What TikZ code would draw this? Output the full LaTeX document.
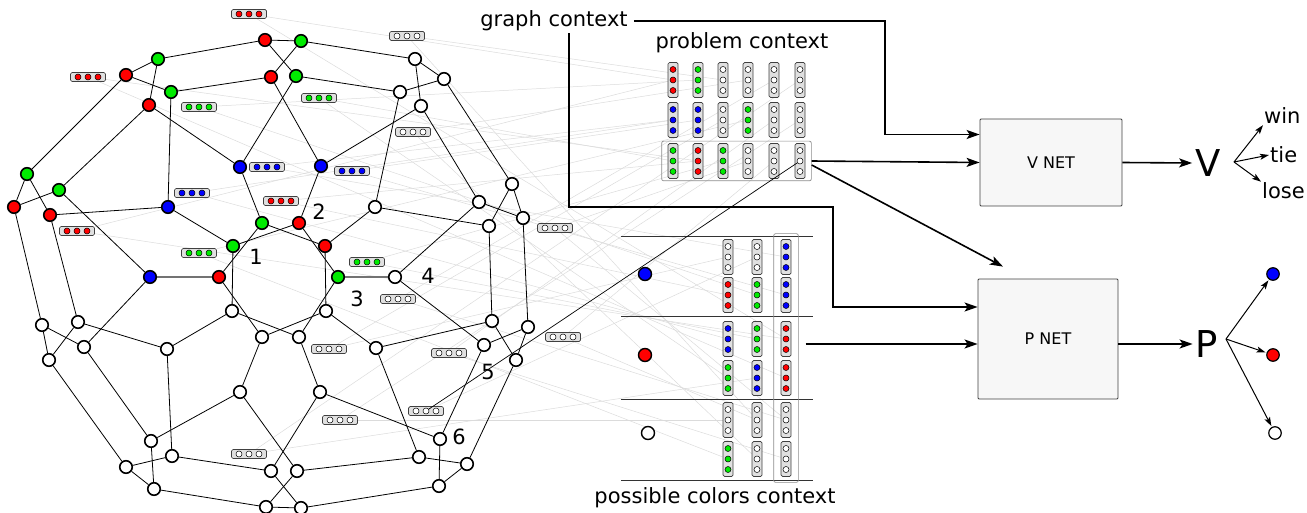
\documentclass[tikz,border=0pt]{standalone}
\usepackage{fontspec}
\setmainfont{DejaVu Sans}
\usepackage{tikz}
\usetikzlibrary{arrows.meta,positioning,fit,backgrounds}

\definecolor{cred}{RGB}{255,0,0}
\definecolor{cgreen}{RGB}{0,235,0}
\definecolor{cblue}{RGB}{0,0,255}

% horizontal colour badge next to a vertex: name, position, colour
\newcommand{\hbadge}[3]{%
  \node[hbadge] (#1) at (#2) {};
  \foreach \k/\d in {1/-10,2/0,3/10}
    \node[dot, fill=#3] (#1-\k) at ([xshift=\d pt]#1) {};
}
% vertical colour capsule of a context: name, position, colour
\newcommand{\vcaps}[3]{%
  \node[vcaps] (#1) at (#2) {};
  \foreach \k/\d in {1/10.5,2/0,3/-10.5}
    \node[dot, fill=#3] (#1-\k) at ([yshift=\d pt]#1) {};
}

\begin{document}
\begin{tikzpicture}
[x=1pt, y=-1pt, font=\fontsize{21}{25}\selectfont,
% STYLES
% The vertex style is used for the nodes of the graph
vertex/.style={circle, draw, line width=1.6pt, minimum size=12.5, inner sep=0pt},
% The link style is used for the edges of the graph
link/.style={draw, line width=0.8pt},
graylink/.style={draw=black!55, line width=1.3pt},
dot/.style={circle, draw, line width=0.5pt, minimum size=6, inner sep=0pt},
hbadge/.style={rectangle, rounded corners=1.5pt, draw=black!75, fill=black!12, line width=0.7pt, minimum width=35, minimum height=9, inner sep=0pt},
vcaps/.style={rectangle, rounded corners=1.5pt, draw=black!75, fill=black!12, line width=0.7pt, minimum width=10, minimum height=35, inner sep=0pt},
groupbox/.style={rectangle, rounded corners=2pt, draw=black!45, line width=0.7pt},
faint/.style={draw=black!14, line width=0.5pt},
sep/.style={draw=black!80, line width=0.8pt},
bigdot/.style={circle, draw, line width=1.4pt, minimum size=13, inner sep=0pt},
outdot/.style={circle, draw, line width=1.2pt, minimum size=12.5, inner sep=0pt},
% The ctx style is used for the thick context connectors
ctx/.style={line width=1.6pt, -{Stealth[length=13pt,width=9pt,inset=3pt]}},
fork/.style={line width=1pt, -{Stealth[length=9pt,width=6pt,inset=2pt]}},
netbox/.style={rectangle, rounded corners=1pt, draw=black!75, fill=black!3, line width=0.8pt, font=\fontsize{16}{19}\selectfont},
big/.style={font=\fontsize{37}{40}\selectfont, inner sep=0pt},
num/.style={inner sep=0pt}]

\useasboundingbox (0,0) rectangle (1307,513);

% Draw vertices
\foreach \n/\x/\y/\c in {a1/265/40/cred, a2/301/41/cgreen, a3/158/59/cgreen, a4/126/75/cred,
  a5/271/77/cred, a6/296/76/cgreen, a7/171/92/cgreen, a8/149/105/cred, a9/240/167/cblue,
  a10/321/166/cblue, a11/27/174/cgreen, a12/59/190/cgreen, a13/14/207/cred, a14/50/215/cred,
  a15/168/207/cblue, a16/150/277/cblue,
  c1/262/223/cgreen, c2/299/223/cred, c3/233/246/cgreen, c4/325/246/cred, c5/219/277/cred,
  c6/338/277/cgreen, c7/232/311/white, c8/326/311/white, c9/262/337/white, c10/299/337/white,
  b1/415/59/white, b2/444/79/white, b3/400/92/white, b4/421/106/white, b5/375/207/white,
  b6/512/184/white, b7/479/202/white, b8/523/218/white, b9/489/226/white, b10/395/277/white,
  d1/492/321/white, d2/528/327/white, d3/484/345/white, d4/516/360/white, d5/376/348/white,
  d6/320/392/white, d7/240/392/white, d8/440/439/white, d9/419/457/white, d10/467/464/white,
  d11/439/486/white, d12/271/471/white, d13/297/471/white, d14/266/507/white, d15/301/508/white,
  e1/42/325/white, e2/78/322/white, e3/84/347/white, e4/49/360/white, e5/167/349/white,
  e6/151/441/white, e7/172/456/white, e8/126/467/white, e9/154/489/white}
  \node[vertex, fill=\c] (\n) at (\x,\y) {};

% vertex numbers
\node[num] (n1) at (256,257) {1};
\node[num] (n2) at (319,212) {2};
\node[num] (n3) at (357,299) {3};
\node[num] (n4) at (428,276) {4};
\node[num] (n5) at (488,372) {5};
\node[num] (n6) at (459,437) {6};

% Draw badges
\foreach \n/\x/\y/\c in {hb1/249/14/cred, hb2/88/77/cred, hb3/199/107/cgreen, hb4/407/36/white,
  hb5/319/98/cgreen, hb6/413/132/white, hb7/267/167/cblue, hb8/352/171/cblue, hb9/192/193/cblue,
  hb10/281/201/cred, hb11/77/231/cred, hb12/199/253/cgreen, hb13/367/262/cgreen,
  hb14/398/299/white, hb15/329/349/white, hb16/449/353/white, hb17/426/411/white,
  hb18/340/420/white, hb19/249/454/white, hb20/555/228/white, hb21/563/337/white}
  \hbadge{\n}{\x,\y}{\c};

%%%%%%%%%%%%%%%
% problem context
\node (pctitle) at (742,43) {problem context};
\foreach \n/\x/\y/\c in {pc-1-1/673/80/cred, pc-1-2/698/80/cgreen, pc-1-3/723/80/white,
  pc-1-4/748/80/white, pc-1-5/774/80/white, pc-1-6/800/80/white,
  pc-2-1/673/120/cblue, pc-2-2/698/120/cblue, pc-2-3/723/120/white,
  pc-2-4/748/120/cgreen, pc-2-5/774/120/white, pc-2-6/800/120/white,
  pc-3-1/673/161/cgreen, pc-3-2/698/161/cred, pc-3-3/723/161/cgreen,
  pc-3-4/748/161/white, pc-3-5/774/161/white, pc-3-6/800/161/white}
  \vcaps{\n}{\x,\y}{\c};
\node[groupbox, inner xsep=6pt, inner ysep=2pt, fit=(pc-3-1)(pc-3-6)] (pcrow) {};

% possible colors context
\foreach \y in {236,316,399,480}
  \draw[sep] (621,\y) -- (813,\y);
\node[bigdot, fill=cblue] (pblue) at (645,274) {};
\node[bigdot, fill=cred] (pred) at (645,355) {};
\node[bigdot, fill=white] (pwhite) at (648,433) {};
\foreach \n/\x/\y/\c in {po-1-1-1/728/257/white, po-1-1-2/728/295/cred,
  po-1-2-1/757/257/white, po-1-2-2/757/295/cgreen, po-1-3-1/786/257/cblue, po-1-3-2/786/295/cblue,
  po-2-1-1/728/339/cblue, po-2-1-2/728/378/cgreen, po-2-2-1/757/339/cgreen,
  po-2-2-2/757/378/cblue, po-2-3-1/786/339/cred, po-2-3-2/786/378/cred,
  po-3-1-1/728/420/white, po-3-1-2/728/459/cgreen, po-3-2-1/757/420/white,
  po-3-2-2/757/459/white, po-3-3-1/786/420/white, po-3-3-2/786/459/white}
  \vcaps{\n}{\x,\y}{\c};
\node[groupbox, inner xsep=7pt, inner ysep=5.5pt, fit=(po-1-3-1)(po-3-3-2)] (pcfit) {};
\node (pocolor) at (715,498) {possible colors context};

% graph context
\node[inner sep=2pt] (gc) at (554,21) {graph context};

% nets and outputs
\node[netbox, minimum width=142, minimum height=87] (vnet) at (1051,162.5) {V NET};
\node[netbox, minimum width=140, minimum height=120] (pnet) at (1048,339) {P NET};
\node[big] (vout) at (1208,163) {V};
\node[big] (pout) at (1207,344) {P};
\node[anchor=west, inner sep=1pt] (win) at (1263,116) {win};
\node[anchor=west, inner sep=1pt] (tie) at (1269,155) {tie};
\node[anchor=west, inner sep=1pt] (lose) at (1261,191) {lose};
\node[outdot, fill=cblue] (oblue) at (1273,274) {};
\node[outdot, fill=cred] (ored) at (1273,355) {};
\node[outdot, fill=white] (owhite) at (1275,433) {};
%%%%%%%%%%%%%%%%

% Draw the links of the graph
\begin{scope}[on background layer]
\foreach \s/\t in {hb1/pc-1-1, hb2/pc-3-2, hb3/pc-1-2, hb4/pc-1-3, hb5/pc-3-1, hb6/pc-1-4,
  hb7/pc-2-1, hb8/pc-2-2, hb9/pc-2-1, hb10/pc-3-2, hb11/pc-1-1, hb12/pc-2-4, hb13/pc-3-3,
  hb14/pc-1-5, hb15/pc-2-3, hb16/pc-2-5, hb18/pc-2-6, hb19/pc-1-6, hb20/pc-3-4, hb21/pc-3-5,
  hb1/po-2-3-1, hb2/po-2-3-2, hb3/po-1-2-2, hb4/po-3-2-1, hb5/po-2-1-2, hb6/po-3-2-2,
  hb7/po-1-3-1, hb8/po-1-3-2, hb9/po-2-1-1, hb10/po-1-1-2, hb11/po-2-3-1, hb12/po-3-1-2,
  hb13/po-2-2-1, hb14/po-3-3-1, hb15/po-1-1-1, hb16/po-3-3-2, hb17/po-1-2-1, hb18/po-3-1-1,
  hb19/po-2-2-2, hb20/po-3-3-1, hb21/po-3-2-1}
  \draw[faint] (\s) -- (\t);
\path[link]
(a1) edge (a2) (a1) edge (a3) (a1) edge (a6) (a2) edge (a5) (a2) edge (b1)
(a3) edge (a4) (a3) edge (a8) (a4) edge (a7) (a4) edge (a11) (a5) edge (a7)
(a5) edge (a10) (a6) edge (a9) (a6) edge (b3) (a7) edge (a15) (a8) edge (a9)
(a8) edge (a12) (a9) edge (c1) (a10) edge (b4) (a10) edge (c2) (a11) edge (a13)
(a11) edge (a14) (a12) edge (a13) (a12) edge (a16) (a13) edge (e1) (a14) edge (a15)
(a14) edge (e2) (a15) edge (c3) (a16) edge (e3)
(c1) edge (c4) (c1) edge (c5) (c2) edge (c3) (c2) edge (c6) (c3) edge (c7)
(c4) edge (b5) (c4) edge (c8) (c5) edge (c9) (c6) edge (c10) (c7) edge (c10)
(c8) edge (c9) (c7) edge (e5) (c8) edge (d5) (c9) edge (d7) (c10) edge (d6)
(b1) edge (b2) (b1) edge (b4) (b2) edge (b3) (b2) edge (b6) (b3) edge (b5)
(b4) edge (b7) (b5) edge (b9) (b6) edge (b8) (b6) edge (b9) (b7) edge (b8)
(b7) edge (b10) (b8) edge (d2) (b9) edge (d1) (b10) edge (d3)
(d1) edge (d5) (d1) edge (d4) (d2) edge (d3) (d2) edge (d4) (d3) edge (d8)
(d4) edge (d10) (d5) edge (d9) (d6) edge (d8) (d6) edge (d12) (d7) edge (e6)
(d7) edge (d13) (d8) edge (d11) (d9) edge (d10) (d9) edge (d13) (d10) edge (d11)
(d11) edge (d15) (d12) edge (e7) (d12) edge (d15) (d13) edge (d14) (d14) edge (e9)
(d14) edge (d15)
(e1) edge (e3) (e1) edge (e4) (e2) edge (e4) (e2) edge (e5) (e3) edge (e6)
(e4) edge (e8) (e5) edge (e7) (e6) edge (e9) (e7) edge (e8) (e8) edge (e9);
\path[graylink] (a16) edge (c5) (c6) edge (b10);
\end{scope}

\draw[line width=0.7pt] (hb17-2) -- (pc-3-6-2);

% Draw the context connectors
\coordinate (gcbend) at (885,0);
\coordinate (pcbend) at (833,207);
\coordinate (pcout) at ([xshift=7pt]pcfit.east |- pout);
\draw[ctx] ([xshift=4pt]gc.east) -- (gc.east -| gcbend) |- ([yshift=28pt]vnet.west);
\draw[ctx] ([xshift=15pt]gc.south) |- (pcbend) |- ([yshift=32pt]pnet.west);
\draw[ctx] (pcrow.east) -- (vnet.west);
\draw[ctx] ([yshift=-4pt]pcrow.east) -- ([shift={(-45pt,12pt)}]pnet.north);
\draw[ctx] (pcout) -- (pnet.west |- pout);
\draw[ctx] (vnet.east) -- ([xshift=-3pt]vout.west);
\draw[ctx] (pnet.east |- pout) -- ([xshift=-3pt]pout.west);

% outputs
\coordinate (vfork) at (1234,162);
\coordinate (pfork) at (1226,339);
\draw[fork] (vfork) -- (win.south west);
\draw[fork] (vfork) -- (tie.west);
\draw[fork] (vfork) -- (lose.north west);
\draw[fork, shorten >=1pt] (pfork) -- (oblue);
\draw[fork, shorten >=1pt] (pfork) -- (ored);
\draw[fork, shorten >=1pt] (pfork) -- (owhite);

\end{tikzpicture}
\end{document}
